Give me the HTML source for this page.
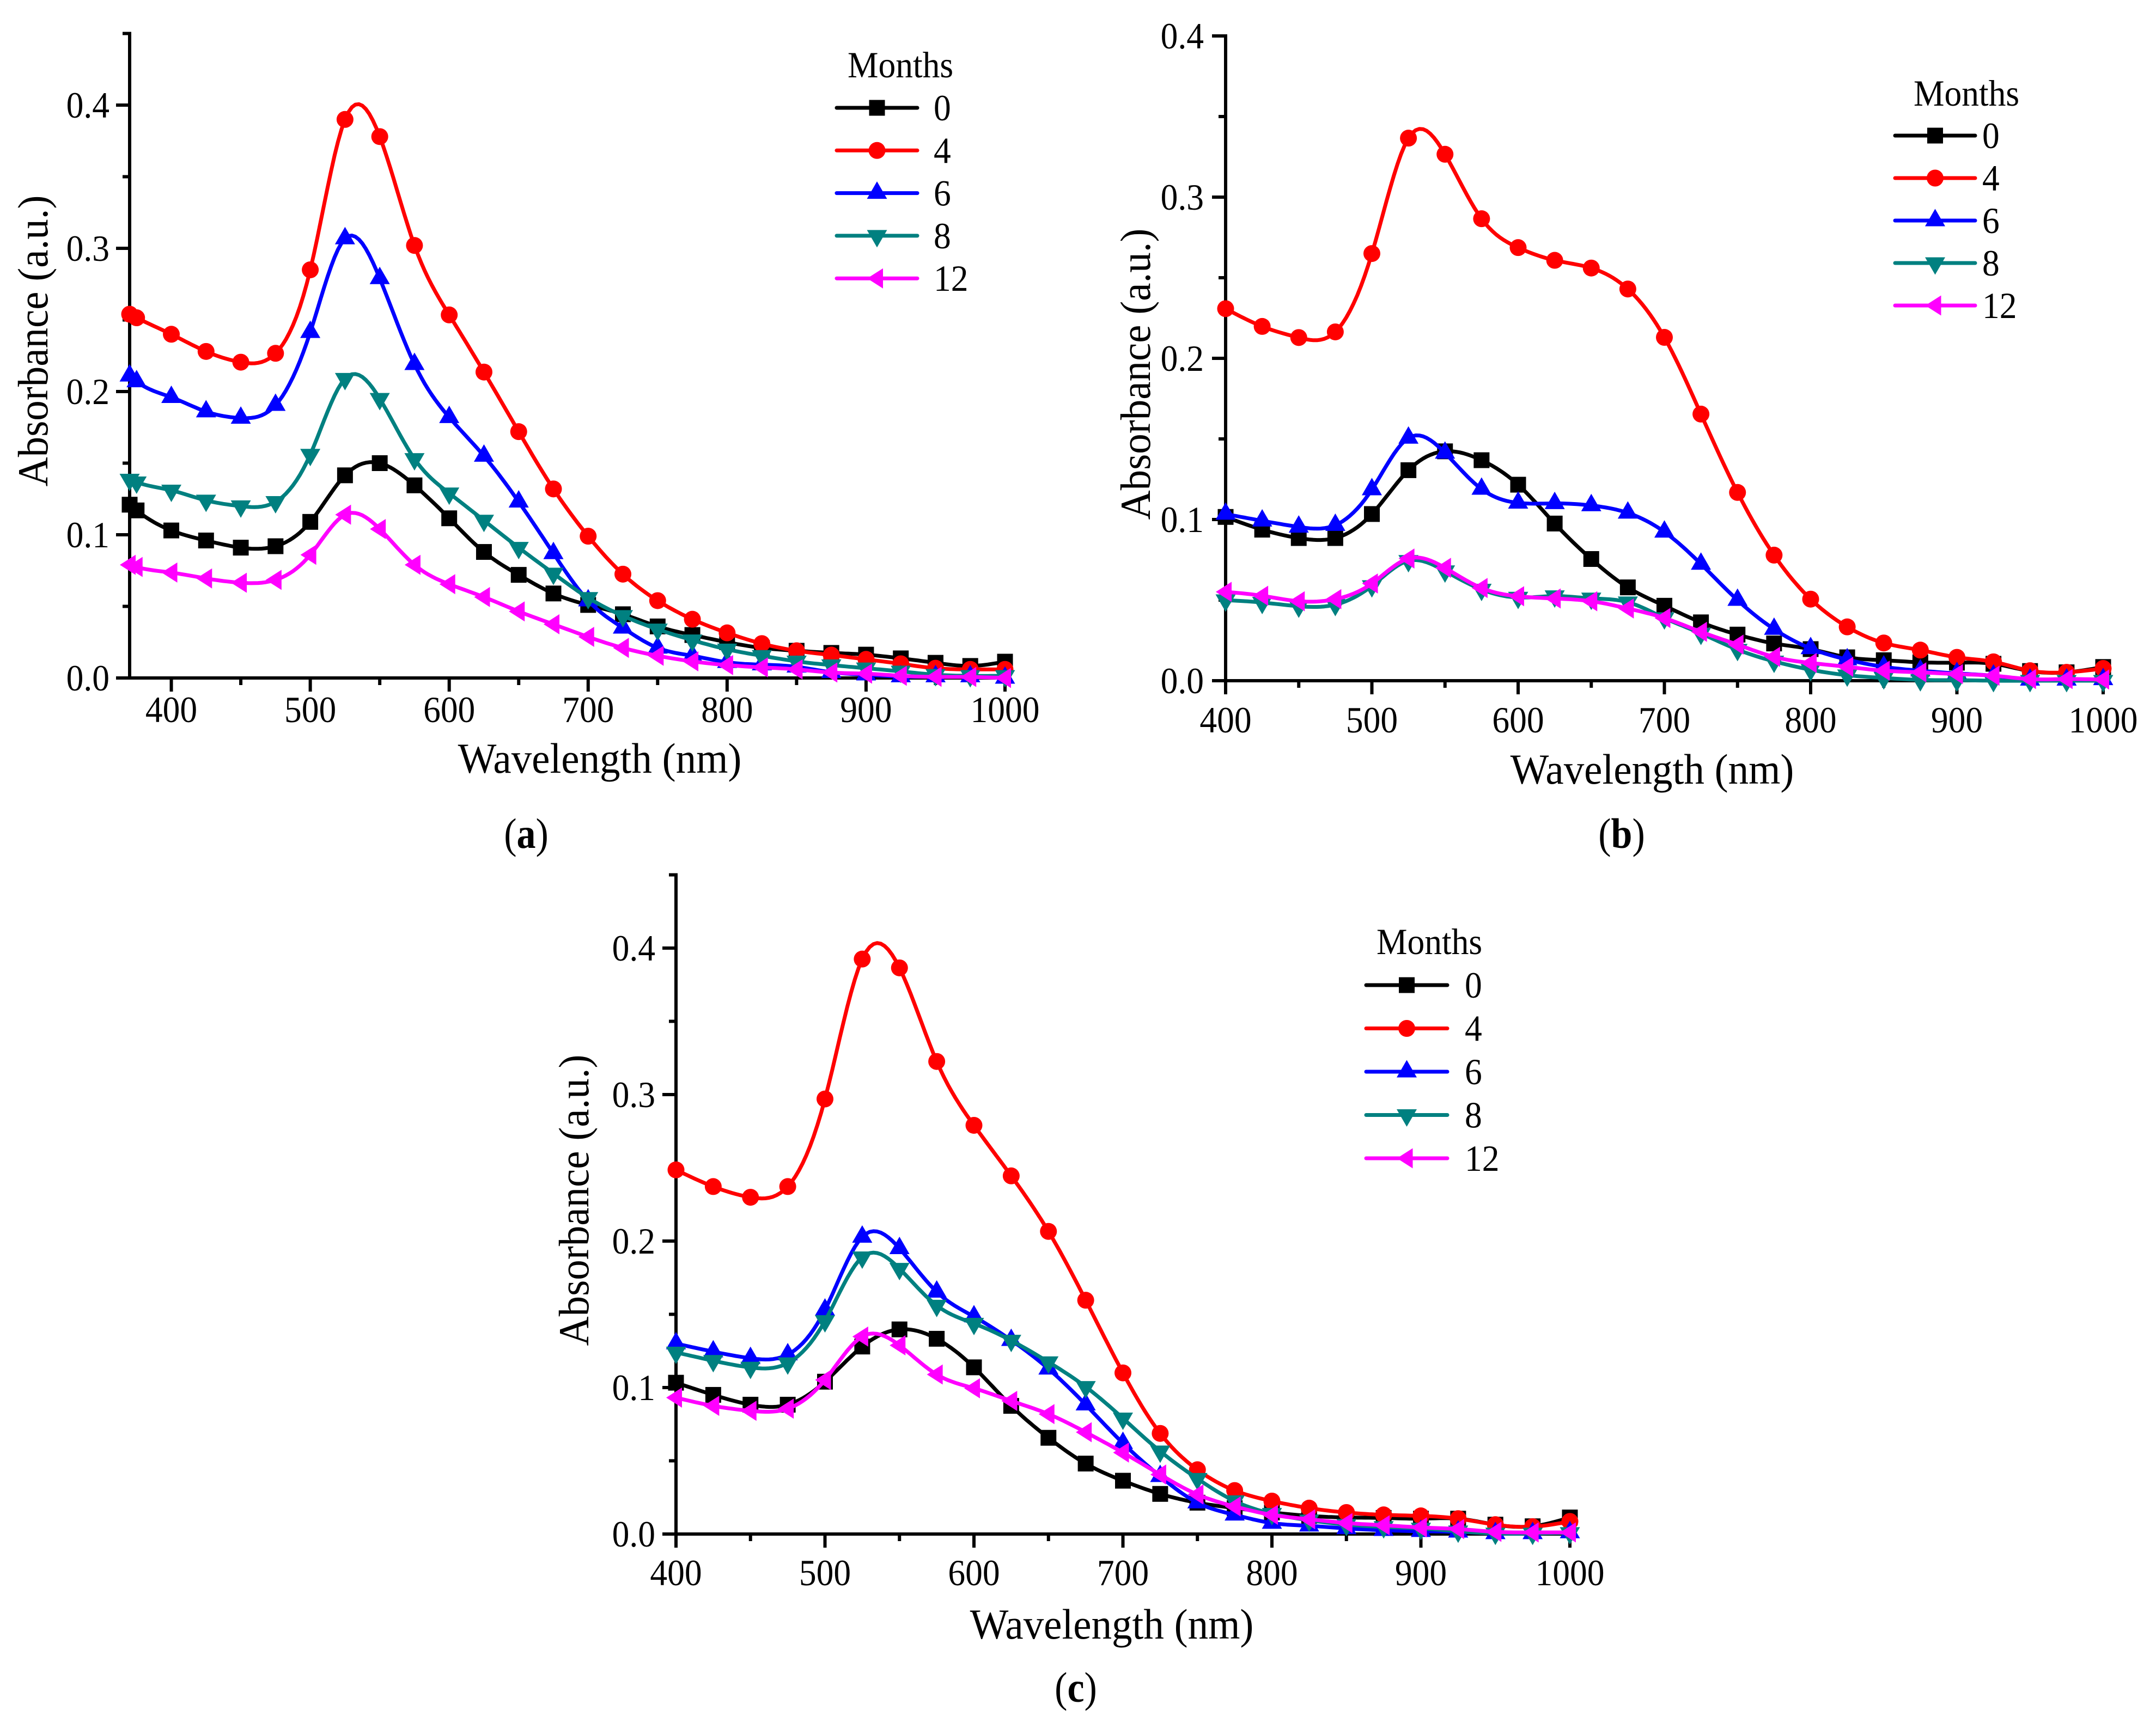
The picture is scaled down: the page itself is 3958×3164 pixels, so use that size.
<!DOCTYPE html>
<html lang="en">
<head>
<meta charset="utf-8">
<title>Absorbance spectra panels</title>
<style>
html,body{margin:0;padding:0;background:#fff;}
svg{display:block;}
text{font-family:"Liberation Serif","Times New Roman",serif;fill:#000;}
</style>
</head>
<body>
<svg id="figure" xmlns="http://www.w3.org/2000/svg" width="3958" height="3164" viewBox="0 0 3958 3164">
<rect x="0" y="0" width="3958" height="3164" fill="#fff"/>
</svg>
<script>
const legendTitle = 'Months';
const months = ['0', '4', '6', '8', '12'];
const xMajorTicks = [400, 500, 600, 700, 800, 900, 1000];
const xMinorTicks = [450, 550, 650, 750, 850, 950];
const xTickLabels = ['400', '500', '600', '700', '800', '900', '1000'];
const yMajorTicks = [0, 0.1, 0.2, 0.3, 0.4];
const yTickLabels = ['0.0', '0.1', '0.2', '0.3', '0.4'];
const yMinorTicksWide = [0.05, 0.15, 0.25, 0.35, 0.45];
const yMinorTicksNarrow = [0.05, 0.15, 0.25, 0.35];

const wavelengthA = [370, 375, 400, 425, 450, 475, 500, 525, 550, 575, 600, 625, 650, 675, 700, 725, 750, 775, 800, 825, 850, 875, 900, 925, 950, 975, 1000];
const wavelengthBC = [400, 425, 450, 475, 500, 525, 550, 575, 600, 625, 650, 675, 700, 725, 750, 775, 800, 825, 850, 875, 900, 925, 950, 975, 1000];

const panelA0 = [.121, .117, .103, .096, .091, .092, .109, .1415, .150, .1345, .1115, .088, .072, .059, .051, .0445, .036, .030, .025, .021, .019, .0175, .0163, .0137, .0106, .0084, .0114];
const panelA4 = [.254, .2515, .240, .228, .2205, .2267, .285, .390, .378, .302, .2535, .2136, .172, .132, .099, .0725, .054, .041, .0315, .024, .019, .016, .013, .0099, .0068, .006, .006];
const panelA6 = [.211, .207, .196, .186, .1815, .1905, .2414, .3068, .279, .219, .182, .155, .123, .087, .054, .035, .021, .0155, .011, .0093, .0078, .004, .0023, .001, .001, .001, 0];
const panelA8 = [.1386, .1367, .131, .124, .120, .123, .156, .209, .195, .153, .129, .110, .091, .073, .056, .0434, .034, .0264, .020, .0155, .0116, .009, .0068, .0046, .0023, .0015, .0015];
const panelA12 = [.079, .0775, .0736, .0695, .0665, .0685, .086, .114, .104, .079, .0655, .0565, .0465, .0375, .0287, .021, .0155, .0116, .009, .0074, .006, .0038, .003, .0015, .0008, .0007, 0];

const panelB0 = [.1016, .0937, .0885, .0885, .1034, .1306, .1423, .1368, .1216, .0975, .0755, .0579, .0465, .0362, .0286, .0231, .0196, .0145, .0127, .0114, .0112, .0105, .006, .0052, .0085];
const panelB4 = [.2308, .2198, .2129, .2164, .265, .3366, .3266, .2866, .2687, .2608, .256, .243, .213, .1654, .1168, .0779, .0506, .0334, .0234, .019, .0145, .0117, .0062, .0052, .0076];
const panelB6 = [.1034, .0992, .0954, .0965, .1186, .1506, .1413, .1189, .1103, .11, .1087, .1041, .0923, .0724, .05, .032, .02, .0131, .0086, .0062, .0045, .003, .0005, .0005, .0008];
const panelB8 = [.05, .0485, .0462, .0472, .0588, .0744, .068, .0566, .0516, .0525, .0511, .0487, .0389, .0293, .0193, .012, .0068, .0034, .0017, .0005, .0003, 0, 0, 0, 0];
const panelB12 = [.0551, .0527, .0493, .0506, .0603, .0758, .07, .0575, .0524, .051, .0493, .0448, .0389, .0303, .0224, .0148, .011, .0086, .0062, .0052, .0041, .0031, .001, .001, .0007];

const panelC0 = [.1033, .095, .0883, .0883, .104, .128, .1397, .1333, .1138, .0875, .0657, .0481, .0364, .0274, .0214, .0177, .0147, .0124, .0113, .011, .0105, .0105, .0064, .0053, .0113];
const panelC4 = [.2486, .2372, .2299, .2372, .297, .3925, .3865, .3226, .279, .2445, .2066, .1596, .11, .0687, .0439, .0297, .0225, .0177, .0147, .0131, .0124, .0105, .0064, .005, .0086];
const panelC6 = [.130, .1245, .12, .1225, .153, .2028, .195, .1653, .1484, .1323, .1128, .0883, .062, .0394, .0214, .0131, .0075, .0056, .0038, .0026, .0019, .0015, .0004, .0004, .001];
const panelC8 = [.124, .1183, .1137, .1167, .1455, .189, .1812, .156, .1437, .1321, .1174, .1005, .079, .0565, .0378, .0225, .0139, .0094, .0064, .0049, .0038, .0019, .0004, .0004, .0008];
const panelC12 = [.0931, .0875, .0841, .0856, .1052, .1348, .1288, .1089, .0995, .0909, .0819, .0695, .0556, .0406, .027, .0188, .0131, .0101, .0075, .006, .0045, .0034, .0015, .0011, .0011];

const seriesColors = ['#000000', '#ff0000', '#0000ff', '#008080', '#ff00ff'];
const markerKinds = ['square', 'circle', 'up', 'down', 'left'];

const NS = 'http://www.w3.org/2000/svg';
const figure = document.getElementById('figure');
const TICK_FONT = 63.5;
const TICK_STRETCH = 1.06;
const TITLE_FONT = 75;
const TITLE_STRETCH = 1.05;
const CAPTION_FONT = 70;
const CAPTION_STRETCH = 1.12;
const LINE_WIDTH = 7;
const AXIS_WIDTH = 6;

function make(tag, parent, attrs, name) {
  const el = document.createElementNS(NS, tag);
  for (const k in attrs) el.setAttribute(k, attrs[k]);
  
  
  parent.appendChild(el);
  return el;
}

function label(parent, x, y, str, size, stretch, anchor, name, rotate) {
  const turn = rotate ? ' rotate(-90)' : '';
  const attrs = {
    transform: 'translate(' + x + ' ' + y + ')' + turn + ' scale(1 ' + stretch + ')',
    'font-size': size,
    'text-anchor': anchor
  };
  const el = make('text', parent, attrs, name);
  el.textContent = str;
  return el;
}

/* natural cubic spline through the marker values, as the plotted curves are smoothed */
function spline(xs, ys, perSegment) {
  const n = xs.length;
  const h = [], alpha = [0];
  for (let i = 0; i < n - 1; i++) h.push(xs[i + 1] - xs[i]);
  for (let i = 1; i < n - 1; i++) {
    alpha.push(3 / h[i] * (ys[i + 1] - ys[i]) - 3 / h[i - 1] * (ys[i] - ys[i - 1]));
  }
  const l = [1], mu = [0], z = [0];
  for (let i = 1; i < n - 1; i++) {
    l[i] = 2 * (xs[i + 1] - xs[i - 1]) - h[i - 1] * mu[i - 1];
    mu[i] = h[i] / l[i];
    z[i] = (alpha[i] - h[i - 1] * z[i - 1]) / l[i];
  }
  const c = new Array(n).fill(0), b = [], d = [];
  for (let j = n - 2; j >= 0; j--) {
    c[j] = z[j] - mu[j] * c[j + 1];
    b[j] = (ys[j + 1] - ys[j]) / h[j] - h[j] * (c[j + 1] + 2 * c[j]) / 3;
    d[j] = (c[j + 1] - c[j]) / (3 * h[j]);
  }
  const out = [];
  for (let i = 0; i < n - 1; i++) {
    for (let s = 0; s < perSegment; s++) {
      const t = h[i] * s / perSegment;
      out.push([xs[i] + t, ys[i] + b[i] * t + c[i] * t * t + d[i] * t * t * t]);
    }
  }
  out.push([xs[n - 1], ys[n - 1]]);
  return out;
}

function drawMarker(parent, kind, cx, cy, color, name) {
  if (kind === 'square') {
    make('rect', parent, {x: cx - 14.5, y: cy - 14.5, width: 29, height: 29, fill: color}, name);
  } else if (kind === 'circle') {
    make('circle', parent, {cx: cx, cy: cy, r: 15.5, fill: color}, name);
  } else {
    let pts;
    if (kind === 'up') pts = [[cx, cy - 21.5], [cx + 18.5, cy + 10.5], [cx - 18.5, cy + 10.5]];
    if (kind === 'down') pts = [[cx, cy + 21.5], [cx + 18.5, cy - 10.5], [cx - 18.5, cy - 10.5]];
    if (kind === 'left') pts = [[cx - 18, cy], [cx + 11, cy - 18.5], [cx + 11, cy + 18.5]];
    make('polygon', parent, {points: pts.map(p => p.join(',')).join(' '), fill: color}, name);
  }
}

function drawPanel(cfg) {
  const id = cfg.id;
  const g = make('g', figure, {}, 'panel-' + id);
  const xScale = v => cfg.xLeft + (v - cfg.xMin) / (1000 - cfg.xMin) * (cfg.xRight - cfg.xLeft);
  const yScale = v => cfg.yBase - v / 0.1 * cfg.yPerTenth;

  /* axes */
  const yTop = yScale(cfg.yMax);
  const axes = make('g', g, {stroke: '#000', 'stroke-width': AXIS_WIDTH, fill: 'none'}, 'axes-' + id);
  make('line', axes, {x1: cfg.xLeft, y1: yTop - 3, x2: cfg.xLeft, y2: cfg.yBase + 3}, 'y-axis-line');
  make('line', axes, {x1: cfg.xLeft - 3, y1: cfg.yBase, x2: cfg.xRight + 3, y2: cfg.yBase}, 'x-axis-line');

  xMajorTicks.forEach((v, i) => {
    make('line', axes, {x1: xScale(v), y1: cfg.yBase, x2: xScale(v), y2: cfg.yBase + 25}, 'x-major-tick');
    label(g, xScale(v), cfg.xLabelBase, xTickLabels[i], TICK_FONT, TICK_STRETCH, 'middle', 'x-tick-label');
  });
  xMinorTicks.forEach(v => {
    make('line', axes, {x1: xScale(v), y1: cfg.yBase, x2: xScale(v), y2: cfg.yBase + 13}, 'x-minor-tick');
  });
  yMajorTicks.forEach((v, i) => {
    make('line', axes, {x1: cfg.xLeft, y1: yScale(v), x2: cfg.xLeft - 25, y2: yScale(v)}, 'y-major-tick');
    label(g, cfg.xLeft - cfg.yLabelGap, yScale(v) + 23, yTickLabels[i], TICK_FONT, TICK_STRETCH, 'end', 'y-tick-label');
  });
  cfg.yMinor.forEach(v => {
    make('line', axes, {x1: cfg.xLeft, y1: yScale(v), x2: cfg.xLeft - 13, y2: yScale(v)}, 'y-minor-tick');
  });

  /* titles */
  label(g, cfg.xTitleX, cfg.xTitleY, 'Wavelength (nm)', TITLE_FONT, TITLE_STRETCH, 'middle', 'x-axis-title');
  label(g, cfg.yTitleX, cfg.yTitleY, 'Absorbance (a.u.)', TITLE_FONT, TITLE_STRETCH, 'middle', 'y-axis-title', true);

  /* series */
  cfg.series.forEach((vals, si) => {
    const sg = make('g', g, {}, 'series-' + months[si] + '-months');
    const pts = spline(cfg.wavelengths, vals, 10);
    const d = pts.map(p => xScale(p[0]).toFixed(1) + ',' + yScale(p[1]).toFixed(1)).join(' ');
    make('polyline', sg, {points: d, fill: 'none', stroke: seriesColors[si], 'stroke-width': LINE_WIDTH, 'stroke-linejoin': 'round', 'stroke-linecap': 'round'}, 'series-line');
    vals.forEach((v, i) => {
      drawMarker(sg, markerKinds[si], xScale(cfg.wavelengths[i]), yScale(v), seriesColors[si], 'data-point');
    });
  });

  /* legend */
  const lg = make('g', g, {}, 'legend-' + id);
  label(lg, cfg.legendTitleX, cfg.legendTitleY, legendTitle, TICK_FONT, TICK_STRETCH, 'start', 'legend-title');
  months.forEach((m, i) => {
    const ly = cfg.legendFirst + i * cfg.legendStep;
    const entry = make('g', lg, {}, 'legend-entry-' + m);
    make('line', entry, {x1: cfg.legendX1, y1: ly, x2: cfg.legendX2, y2: ly, stroke: seriesColors[i], 'stroke-width': LINE_WIDTH, 'stroke-linecap': 'round'}, 'legend-line');
    drawMarker(entry, markerKinds[i], (cfg.legendX1 + cfg.legendX2) / 2, ly, seriesColors[i], 'legend-marker');
    label(entry, cfg.legendTextX, ly + 23, m, TICK_FONT, TICK_STRETCH, 'start', 'legend-label');
  });

  /* caption */
  const cap = make('text', g, {
    transform: 'translate(' + cfg.capX + ' ' + cfg.capY + ') scale(1 ' + CAPTION_STRETCH + ')',
    'font-size': CAPTION_FONT,
    'text-anchor': 'middle'
  }, 'panel-caption');
  cap.appendChild(document.createTextNode('('));
  const bold = make('tspan', cap, {'font-weight': 'bold'}, 'panel-letter');
  bold.textContent = id;
  cap.appendChild(document.createTextNode(')'));
}

drawPanel({
  id: 'a', wavelengths: wavelengthA, series: [panelA0, panelA4, panelA6, panelA8, panelA12],
  xMin: 370, xLeft: 238, xRight: 1845, yBase: 1245, yPerTenth: 263, yMax: 0.45, yMinor: yMinorTicksWide,
  xLabelBase: 1326, yLabelGap: 37, xTitleX: 1101, xTitleY: 1419, yTitleX: 87, yTitleY: 626,
  legendTitleX: 1556, legendTitleY: 142, legendX1: 1536, legendX2: 1684, legendFirst: 198, legendStep: 78.3, legendTextX: 1714,
  capX: 966, capY: 1557
});
drawPanel({
  id: 'b', wavelengths: wavelengthBC, series: [panelB0, panelB4, panelB6, panelB8, panelB12],
  xMin: 400, xLeft: 2250, xRight: 3861, yBase: 1250, yPerTenth: 296, yMax: 0.4, yMinor: yMinorTicksNarrow,
  xLabelBase: 1345, yLabelGap: 40, xTitleX: 3033, xTitleY: 1439, yTitleX: 2111, yTitleY: 687,
  legendTitleX: 3513, legendTitleY: 194, legendX1: 3479, legendX2: 3626, legendFirst: 249, legendStep: 78, legendTextX: 3639,
  capX: 2977, capY: 1557
});
drawPanel({
  id: 'c', wavelengths: wavelengthBC, series: [panelC0, panelC4, panelC6, panelC8, panelC12],
  xMin: 400, xLeft: 1241, xRight: 2882, yBase: 2817, yPerTenth: 269, yMax: 0.45, yMinor: yMinorTicksWide,
  xLabelBase: 2911, yLabelGap: 38, xTitleX: 2041, xTitleY: 3009, yTitleX: 1080, yTitleY: 2204,
  legendTitleX: 2527, legendTitleY: 1752, legendX1: 2508, legendX2: 2657, legendFirst: 1809, legendStep: 79.5, legendTextX: 2689,
  capX: 1975, capY: 3125
});
</script>
</body>
</html>
